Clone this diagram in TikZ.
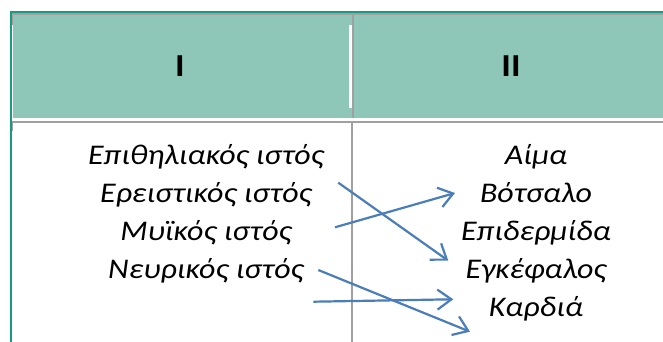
\documentclass[tikz,border=0pt]{standalone}
\usepackage{fontspec}
\setmainfont{Carlito}[FakeStretch=1.12]
\usetikzlibrary{arrows.meta}
\definecolor{hdrfill}{HTML}{8EC7B8}
\definecolor{tealline}{HTML}{179C7F}
\definecolor{gridgrey}{HTML}{A0A0A0}
\definecolor{arrowblue}{HTML}{4A7EBB}
\begin{document}
\begin{tikzpicture}[x=1pt,y=-1pt,
  hdr/.style={font=\fontsize{32}{32}\selectfont\bfseries, inner sep=0pt, anchor=base},
  item/.style={font=\fontsize{28.5}{28.5}\selectfont\itshape, inner sep=0pt, anchor=base},
  link/.style={draw=arrowblue, line width=2.2pt, -{Straight Barb[length=14pt,width=20pt]}},
  gridline/.style={draw=gridgrey, line width=2pt}
]
\useasboundingbox (0,0) rectangle (663,342);
\fill[white] (0,0) rectangle (663,342);
% header
\fill[hdrfill] (12.7,15) rectangle (663,118);
\draw[tealline, line width=2pt] (10.8,11) -- (10.8,342);
\draw[tealline, line width=2pt] (10,11.8) -- (663,11.8);
\draw[gridline] (12,13.8) -- (663,13.8);
\draw[gridgrey, line width=1pt] (12.2,13) -- (12.2,25);
\draw[gridline] (352.7,15) -- (352.7,118);
\fill[white] (348.5,25) rectangle (351.6,108);
\draw[gridline] (12,121.7) -- (663,121.7);
\draw[gridgrey, line width=1pt] (12.2,121) -- (12.2,131);
\draw[gridline] (351.9,122) -- (351.9,342);
\node[hdr] (h1) at (180,77) {I};
\node[hdr] (h2) at (511,77) {II};
% left column
\node[item] (l1) at (206,164) {Επιθηλιακός ιστός};
\node[item] (l2) at (206,202) {Ερειστικός ιστός};
\node[item] (l3) at (206,240) {Μυϊκός ιστός};
\node[item] (l4) at (206,278) {Νευρικός ιστός};
% right column
\node[item] (r1) at (536,164) {Αίμα};
\node[item] (r2) at (536,202) {Βότσαλο};
\node[item] (r3) at (536,240) {Επιδερμίδα};
\node[item] (r4) at (536,278) {Εγκέφαλος};
\node[item] (r5) at (536,316) {Καρδιά};
% arrows
\coordinate (a1s) at (338.3,182.7);
\coordinate (a1e) at (448.3,260.7);
\coordinate (a2s) at (335,227.3);
\coordinate (a2e) at (455,193);
\coordinate (a3s) at (318.3,270);
\coordinate (a3e) at (470,331.7);
\coordinate (a4s) at (313.3,301.7);
\coordinate (a4e) at (453.3,299.3);
\draw[link] (a1s) -- (a1e);
\draw[link] (a2s) -- (a2e);
\draw[link] (a3s) -- (a3e);
\draw[link] (a4s) -- (a4e);
\end{tikzpicture}
\end{document}
